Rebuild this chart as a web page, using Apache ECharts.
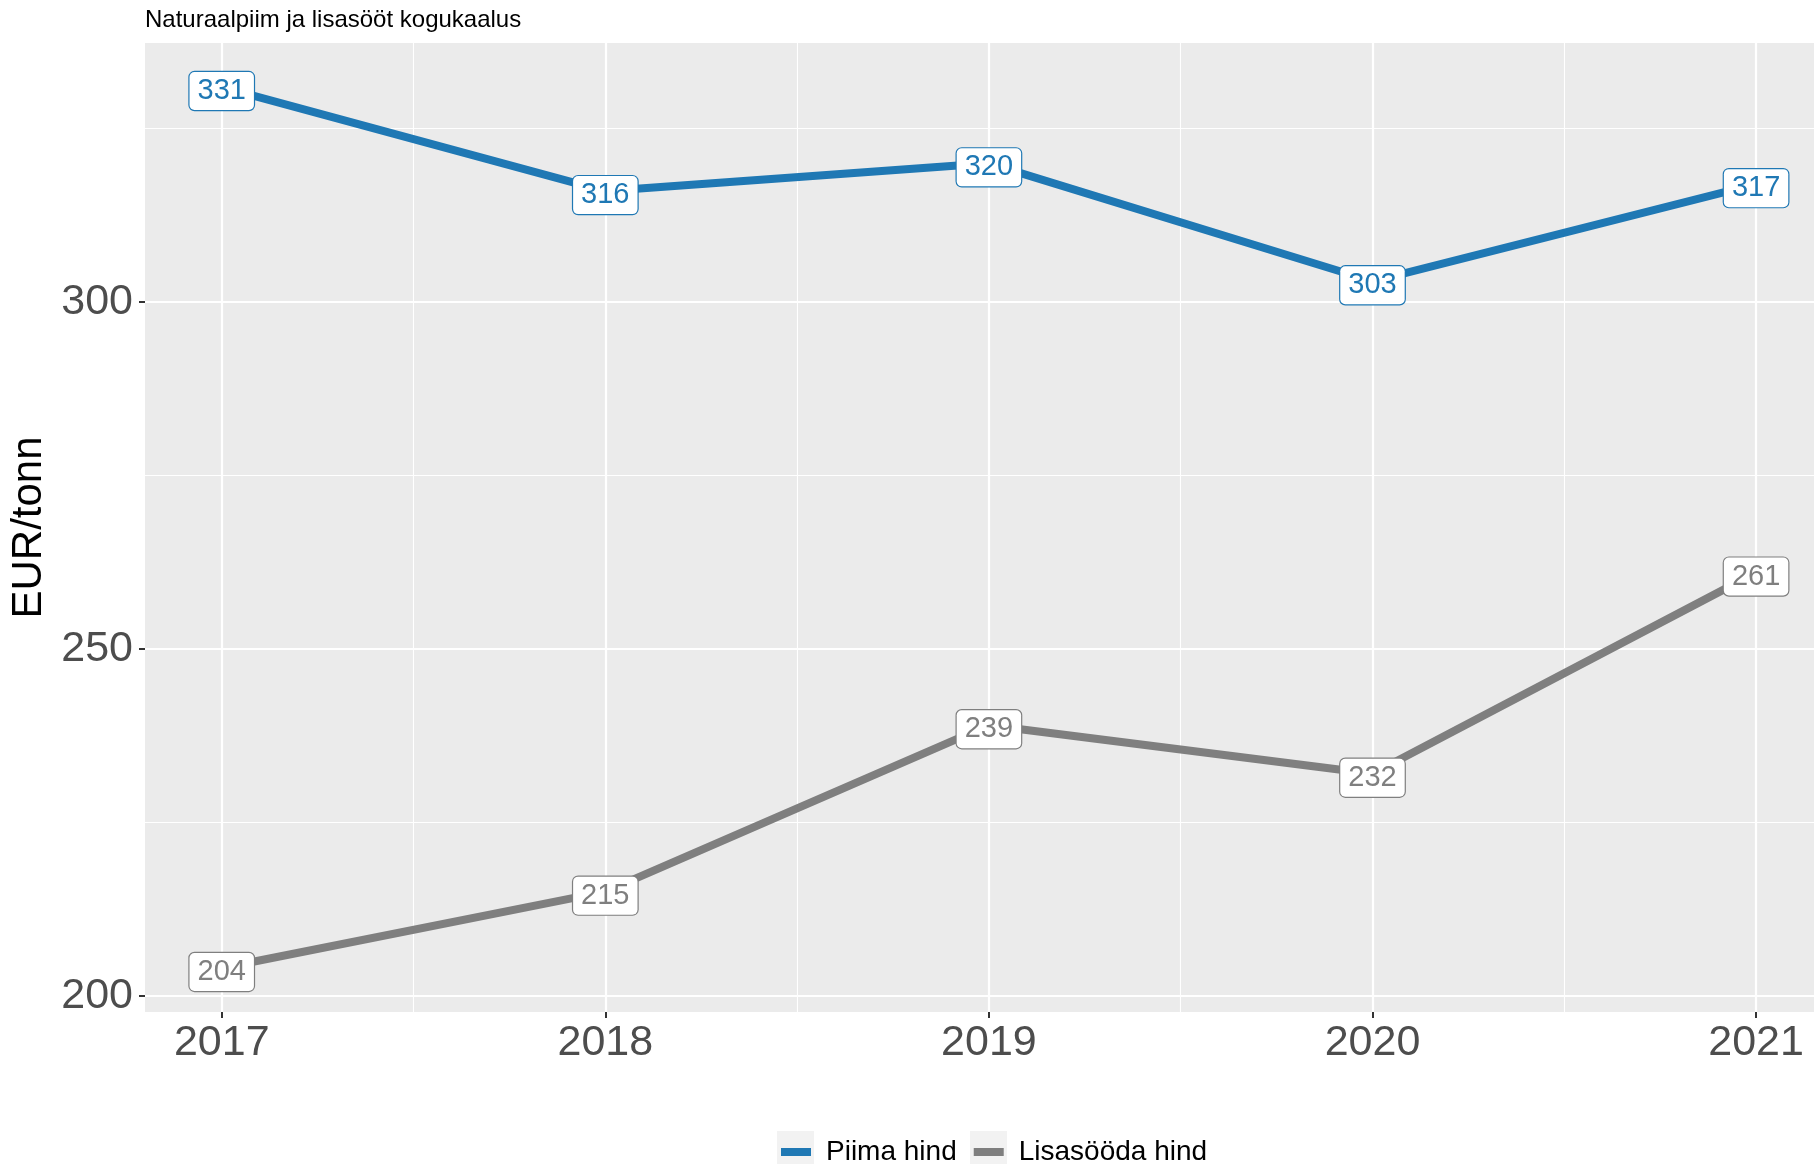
<!DOCTYPE html>
<html>
<head>
<meta charset="utf-8">
<script src="https://cdn.jsdelivr.net/npm/echarts@6/dist/echarts.min.js"></script>
<style>
html,body{margin:0;padding:0;background:#fff;}
#chart{width:1814px;height:1164px;}
</style>
</head>
<body>
<div id="chart"></div>
<script>
const years = [2017, 2018, 2019, 2020, 2021];
const piimaHind = [331, 316, 320, 303, 317];
const lisasoodaHind = [204, 215, 239, 232, 261];
const yMajorTicks = [200, 250, 300];
const yMinorTicks = [225, 275, 325];
const xMinorTicks = [2017.5, 2018.5, 2019.5, 2020.5];
const seriesNames = ['Piima hind', 'Lisasööda hind'];
const titleText = 'Naturaalpiim ja lisasööt kogukaalus';
const yAxisTitle = 'EUR/tonn';

const FONT = '"Liberation Sans", Arial, sans-serif';
const BLUE = '#1F78B4';
const GREY = '#7F7F7F';

const dataMin = Math.min(...piimaHind, ...lisasoodaHind);
const dataMax = Math.max(...piimaHind, ...lisasoodaHind);
const yPad = (dataMax - dataMin) * 0.05;
const xPad = (years[years.length-1] - years[0]) * 0.05;
const xMin = years[0] - xPad;
// the picture is cut at its right edge, so the visible x range ends a little before the padded max
const xMaxVisible = 2021.151;
const yMin = dataMin - yPad, yMax = dataMax + yPad;

function pairs(vals){ return years.map((y,i)=>[y, vals[i]]); }

function labelStyle(color){
  return {
    show: true, position: 'inside', offset: [0, 4],
    formatter: p => String(p.value[1]),
    fontFamily: FONT, fontSize: 29, color: color,
    backgroundColor: '#fff', borderColor: color, borderWidth: 1.2, borderRadius: 5,
    padding: [5, 8, 4, 8]
  };
}

const chart = echarts.init(document.getElementById('chart'), null, {renderer: 'canvas'});
chart.setOption({
  animation: false,
  backgroundColor: '#fff',
  title: {
    text: titleText, left: 145, top: 8, padding: 0,
    textStyle: {fontFamily: FONT, fontSize: 24, fontWeight: 'normal', color: '#000'}
  },
  legend: {
    data: seriesNames, left: 781, top: 1138, padding: 0,
    icon: 'rect', itemWidth: 30, itemHeight: 8, itemGap: 17,
    textStyle: {fontFamily: FONT, fontSize: 28, color: '#000', padding: [0,0,0,10]}
  },
  graphic: [
    {type:'rect', shape:{x:777, y:1131, width:37, height:36}, style:{fill:'#F2F2F2'}, z:-1},
    {type:'rect', shape:{x:970, y:1131, width:37, height:36}, style:{fill:'#F2F2F2'}, z:-1}
  ],
  grid: {left: 145, top: 43, right: 0, height: 969, backgroundColor: '#EBEBEB', show: true, borderWidth: 0},
  xAxis: [{
    type: 'value', min: xMin, max: xMaxVisible,
    axisLine: {show: false},
    axisTick: {show: true, length: 6, customValues: years, lineStyle: {color: '#333', width: 2}},
    axisLabel: {customValues: years, fontFamily: FONT, fontSize: 43, color: '#4D4D4D', margin: 10, formatter: v => String(v)},
    splitLine: {show: true, lineStyle: {color: '#fff', width: 2.2}}
  },{
    type: 'value', min: xMin, max: xMaxVisible, position: 'bottom',
    axisLine: {show: false},
    axisTick: {show: false, customValues: xMinorTicks},
    axisLabel: {show: false, customValues: xMinorTicks},
    splitLine: {show: true, lineStyle: {color: '#fff', width: 1.1}}
  }],
  yAxis: [{
    type: 'value', min: yMin, max: yMax,
    name: yAxisTitle, nameLocation: 'middle', nameRotate: 90, nameGap: 89,
    nameTextStyle: {fontFamily: FONT, fontSize: 42, color: '#000'},
    axisLine: {show: false},
    axisTick: {show: true, length: 6, customValues: yMajorTicks, lineStyle: {color: '#333', width: 2}},
    axisLabel: {customValues: yMajorTicks, fontFamily: FONT, fontSize: 43, color: '#4D4D4D', margin: 12},
    splitLine: {show: true, lineStyle: {color: '#fff', width: 2.2}}
  },{
    type: 'value', min: yMin, max: yMax, position: 'left',
    axisLine: {show: false},
    axisTick: {show: false, customValues: yMinorTicks},
    axisLabel: {show: false, customValues: yMinorTicks},
    splitLine: {show: true, lineStyle: {color: '#fff', width: 1.1}}
  }],
  series: [{
    name: seriesNames[0], type: 'line', data: pairs(piimaHind),
    color: BLUE, lineStyle: {color: BLUE, width: 8},
    symbol: 'circle', symbolSize: 1, showSymbol: true,
    label: labelStyle(BLUE)
  },{
    name: seriesNames[1], type: 'line', data: pairs(lisasoodaHind),
    color: GREY, lineStyle: {color: GREY, width: 8},
    symbol: 'circle', symbolSize: 1, showSymbol: true,
    label: labelStyle(GREY)
  }]
});
</script>
</body>
</html>
